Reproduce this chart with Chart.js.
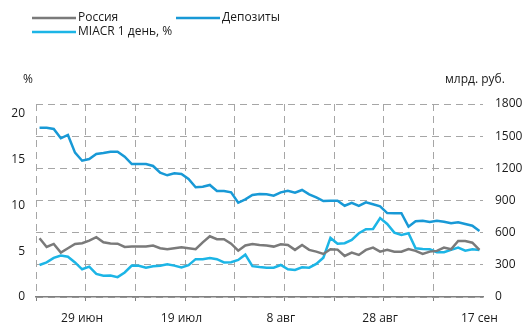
<!DOCTYPE html>
<html>
<head>
<meta charset="utf-8">
<script src="https://cdn.jsdelivr.net/npm/chart.js@4.4.1/dist/chart.umd.min.js"></script>
<style>
  html, body { margin: 0; padding: 0; background: #fff; }
  #wrap { width: 526px; height: 325px; position: relative; }
</style>
</head>
<body>
<div id="wrap"><canvas id="chart" width="526" height="325"></canvas></div>
<script>
// подписи дат на оси X (номер точки -> подпись)
const tickLabels = ['29 июн', '19 июл', '8 авг', '28 авг', '17 сен'];
const tickPos = [6, 20, 34, 48, 62];

// Россия, %
const russia = [6.43, 5.47, 5.80, 4.85, 5.33, 5.80, 5.88, 6.16, 6.54, 5.99,
  5.86, 5.83, 5.47, 5.51, 5.51, 5.51, 5.62, 5.33, 5.22, 5.33,
  5.44, 5.33, 5.22, 5.97, 6.64, 6.32, 6.32, 5.83, 5.06, 5.64,
  5.80, 5.69, 5.62, 5.51, 5.77, 5.69, 5.15, 5.69, 5.15, 4.96,
  4.71, 5.23, 5.18, 4.49, 4.85, 4.60, 5.15, 5.40, 4.96, 5.15,
  4.96, 4.96, 5.25, 5.04, 4.71, 4.96, 5.04, 5.40, 5.22, 6.13,
  6.13, 5.94, 5.15];

// Депозиты, млрд. руб.
const deposits = [1579, 1579, 1567, 1480, 1511, 1346, 1271, 1287, 1334, 1343,
  1355, 1355, 1309, 1240, 1240, 1240, 1222, 1159, 1135, 1154,
  1147, 1100, 1023, 1029, 1045, 989, 989, 976, 879, 911,
  951, 961, 958, 945, 976, 991, 973, 998, 958, 930,
  895, 898, 898, 851, 879, 849, 883, 865, 846, 783,
  781, 781, 656, 706, 712, 699, 712, 702, 687, 697,
  681, 665, 616];

// MIACR 1 день, %
const miacr = [3.50, 3.78, 4.27, 4.54, 4.41, 3.78, 3.03, 3.32, 2.52, 2.33,
  2.35, 2.17, 2.68, 3.43, 3.42, 3.20, 3.36, 3.42, 3.59, 3.43,
  3.23, 3.48, 4.14, 4.13, 4.25, 4.13, 3.78, 3.81, 4.05, 4.63,
  3.37, 3.28, 3.21, 3.21, 3.50, 3.03, 2.96, 3.25, 3.21, 3.61,
  4.30, 6.46, 5.83, 5.88, 6.24, 6.97, 7.41, 7.44, 8.62, 7.99,
  7.04, 6.79, 6.97, 5.33, 5.25, 5.22, 4.89, 4.89, 5.15, 5.40,
  5.07, 5.22, 5.15];

const leftTicks = [0, 5, 10, 15, 20];

const FONT = '"Open Sans", sans-serif';
const TEXT = '#1a1a1a';
const GRID = '#a6a6a6';

const categories = russia.map((v, i) => i);

// легенда и подписи осей
const extraText = {
    id: 'extraText',
    afterDraw(chart) {
        const ctx = chart.ctx;
        const ds = chart.data.datasets;
        const items = [
            { ds: 0, x: 32, y: 18 },
            { ds: 1, x: 176, y: 18 },
            { ds: 2, x: 32, y: 32 }
        ];
        ctx.save();
        ctx.font = '12px ' + FONT;
        ctx.textBaseline = 'middle';
        ctx.textAlign = 'left';
        items.forEach(it => {
            ctx.strokeStyle = ds[it.ds].borderColor;
            ctx.lineWidth = 2.5;
            ctx.beginPath();
            ctx.moveTo(it.x, it.y);
            ctx.lineTo(it.x + 44, it.y);
            ctx.stroke();
            ctx.fillStyle = TEXT;
            ctx.fillText(ds[it.ds].label, it.x + 46, it.y);
        });
        ctx.fillText('%', 23, 80);
        ctx.fillText('млрд. руб.', 445, 80);
        ctx.restore();
    }
};

new Chart(document.getElementById('chart'), {
    type: 'line',
    data: {
        labels: categories,
        datasets: [
            {
                label: 'Россия',
                data: russia,
                yAxisID: 'y',
                borderColor: '#7a7a7a',
                borderWidth: 2.5,
                pointRadius: 0,
                tension: 0
            },
            {
                label: 'Депозиты',
                data: deposits,
                yAxisID: 'y1',
                borderColor: '#1899d6',
                borderWidth: 2.5,
                pointRadius: 0,
                tension: 0
            },
            {
                label: 'MIACR 1 день, %',
                data: miacr,
                yAxisID: 'y',
                borderColor: '#1cb5e6',
                borderWidth: 2.5,
                pointRadius: 0,
                tension: 0
            }
        ]
    },
    options: {
        responsive: false,
        animation: false,
        devicePixelRatio: 1,
        layout: { padding: { top: 104, left: 0, right: 0, bottom: 0 } },
        plugins: {
            legend: { display: false },
            tooltip: { enabled: false }
        },
        scales: {
            x: {
                type: 'category',
                offset: true,
                grid: {
                    offset: true,
                    color: c => (c.index % 7 === 0 ? GRID : 'rgba(0,0,0,0)'),
                    tickColor: c => (c.index % 7 === 0 ? '#808080' : 'rgba(0,0,0,0)'),
                    lineWidth: 1,
                    tickLength: 4
                },
                border: { display: true, color: '#808080', width: 1.5, dash: [7, 5] },
                ticks: {
                    autoSkip: false,
                    maxRotation: 0,
                    padding: 10,
                    color: TEXT,
                    font: { family: FONT, size: 12 },
                    callback: (value, index) => {
                        const k = tickPos.indexOf(index);
                        return k >= 0 ? tickLabels[k] : '';
                    }
                },
                afterFit: s => { s.height = 28; }
            },
            y: {
                position: 'left',
                min: 0,
                max: 21.1,
                grid: { display: false, drawTicks: false },
                border: { display: false },
                ticks: {
                    padding: 11,
                    color: TEXT,
                    font: { family: FONT, size: 12 }
                },
                afterBuildTicks: s => { s.ticks = leftTicks.map(v => ({ value: v })); },
                afterFit: s => { s.width = 36; }
            },
            y1: {
                position: 'right',
                min: 0,
                max: 1800,
                grid: { color: GRID, lineWidth: 1, drawTicks: false },
                border: { display: false, dash: [7, 5] },
                ticks: {
                    stepSize: 300,
                    padding: 12,
                    color: TEXT,
                    font: { family: FONT, size: 12 },
                    callback: v => String(v)
                },
                afterFit: s => { s.width = 43; }
            }
        }
    },
    plugins: [extraText]
});
</script>
</body>
</html>
